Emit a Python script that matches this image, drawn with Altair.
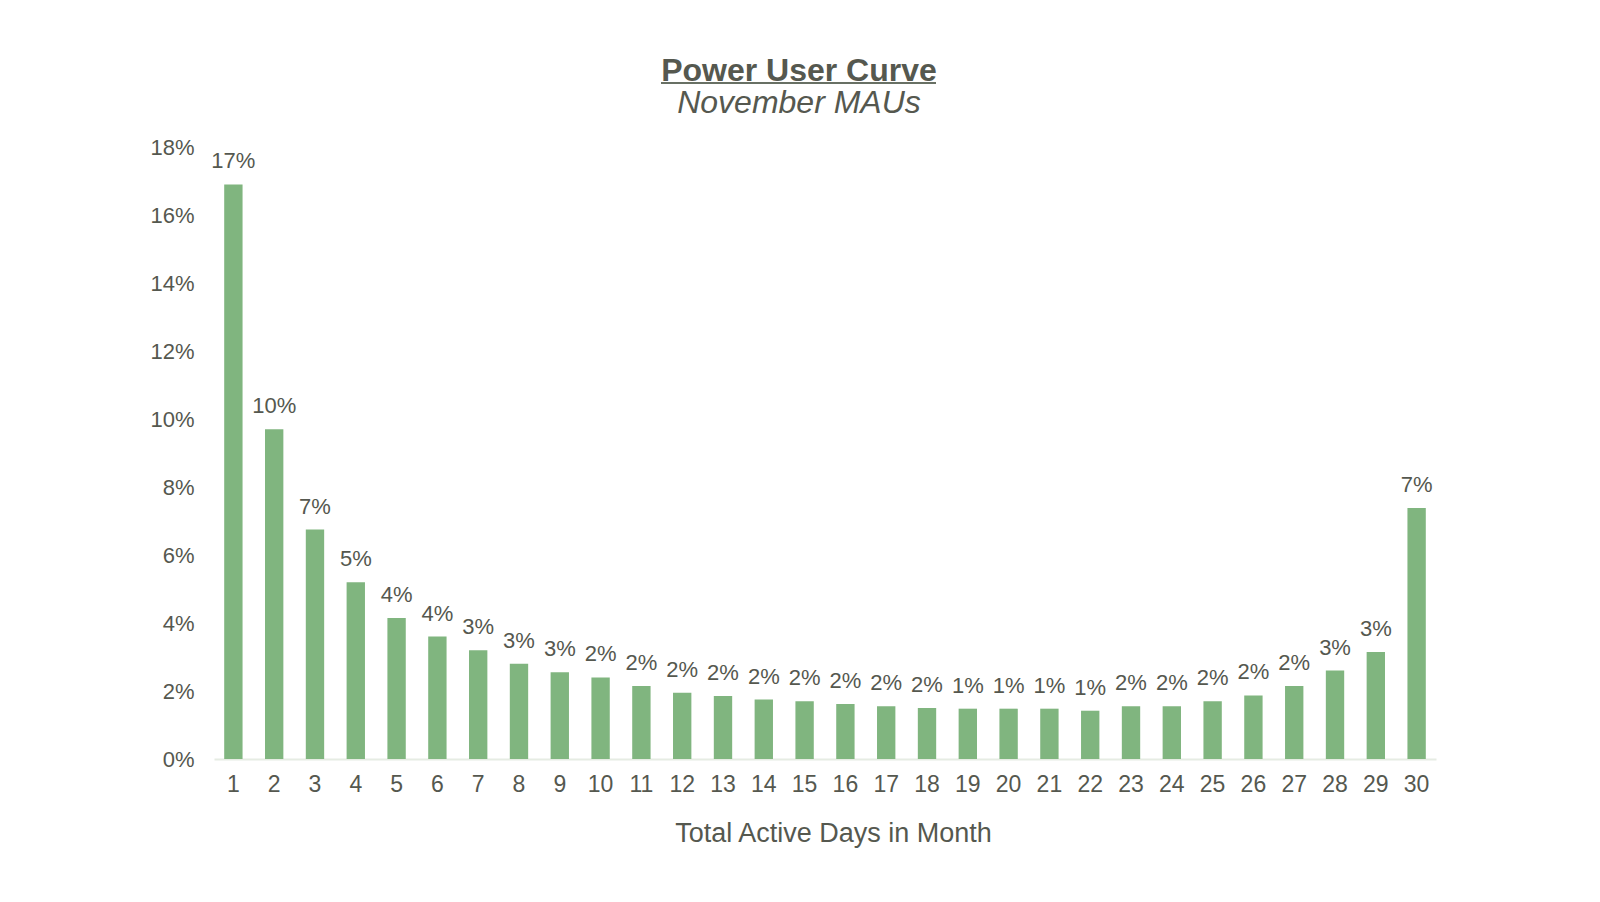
import altair as alt
import pandas as pd

days = [str(d) for d in range(1, 31)]
share = [16.9, 9.7, 6.75, 5.2, 4.15, 3.6, 3.2, 2.8, 2.55, 2.4,
         2.15, 1.95, 1.85, 1.75, 1.7, 1.62, 1.55, 1.5, 1.48, 1.48,
         1.48, 1.42, 1.55, 1.55, 1.7, 1.87, 2.15, 2.6, 3.15, 7.38]
labels = ["17%", "10%", "7%", "5%", "4%", "4%", "3%", "3%", "3%", "2%",
          "2%", "2%", "2%", "2%", "2%", "2%", "2%", "2%", "1%", "1%",
          "1%", "1%", "2%", "2%", "2%", "2%", "2%", "3%", "3%", "7%"]

df = pd.DataFrame({"day": days, "share": share, "label": labels})

FONT = "Liberation Sans"
TEXT = "#55584f"
BAR = "#80b57f"

x = alt.X("day:N", sort=days, title="Total Active Days in Month",
          scale=alt.Scale(paddingInner=0.55, paddingOuter=0.25),
          axis=alt.Axis(labelAngle=0, labelFontSize=23, labelColor=TEXT,
                        labelFont=FONT, titleFont=FONT, titleFontSize=27,
                        titleFontWeight="normal", titleColor=TEXT,
                        titlePadding=24, ticks=False, labelPadding=14,
                        domainColor="#e6ece3", domainWidth=2, titleX=619))
y = alt.Y("share:Q", title=None,
          scale=alt.Scale(domain=[0, 18], nice=False),
          axis=alt.Axis(values=list(range(0, 19, 2)), labelExpr="datum.value + '%'",
                        labelFontSize=22, labelColor=TEXT, labelFont=FONT,
                        grid=False, ticks=False, domain=False, labelPadding=20))

bars = alt.Chart(df).mark_bar(color=BAR).encode(x=x, y=y)
text = alt.Chart(df).mark_text(baseline="bottom", dy=-11, fontSize=22,
                               font=FONT, color=TEXT).encode(
    x=alt.X("day:N", sort=days), y="share:Q", text="label:N")
underline = alt.Chart(df.head(1)).mark_rule(color="#687064", strokeWidth=2).encode(
    x=alt.value(447), x2=alt.value(722), y=alt.value(-64))

chart = alt.layer(bars, text, underline).properties(
    width=1222, height=612, background="white",
    padding={"left": 141, "top": 47, "right": 20, "bottom": 10},
    title=alt.TitleParams(text="Power User Curve", subtitle="November MAUs",
                          font=FONT, fontSize=32, fontWeight="bold", color=TEXT,
                          subtitleFont=FONT, subtitleFontSize=32,
                          subtitleFontStyle="italic", subtitleColor=TEXT,
                          subtitlePadding=0, anchor="middle", frame="bounds",
                          offset=-38, dx=6),
).configure_view(strokeWidth=0, stroke=None)

chart.save("out.html", embed_options={"renderer": "svg", "actions": False})
